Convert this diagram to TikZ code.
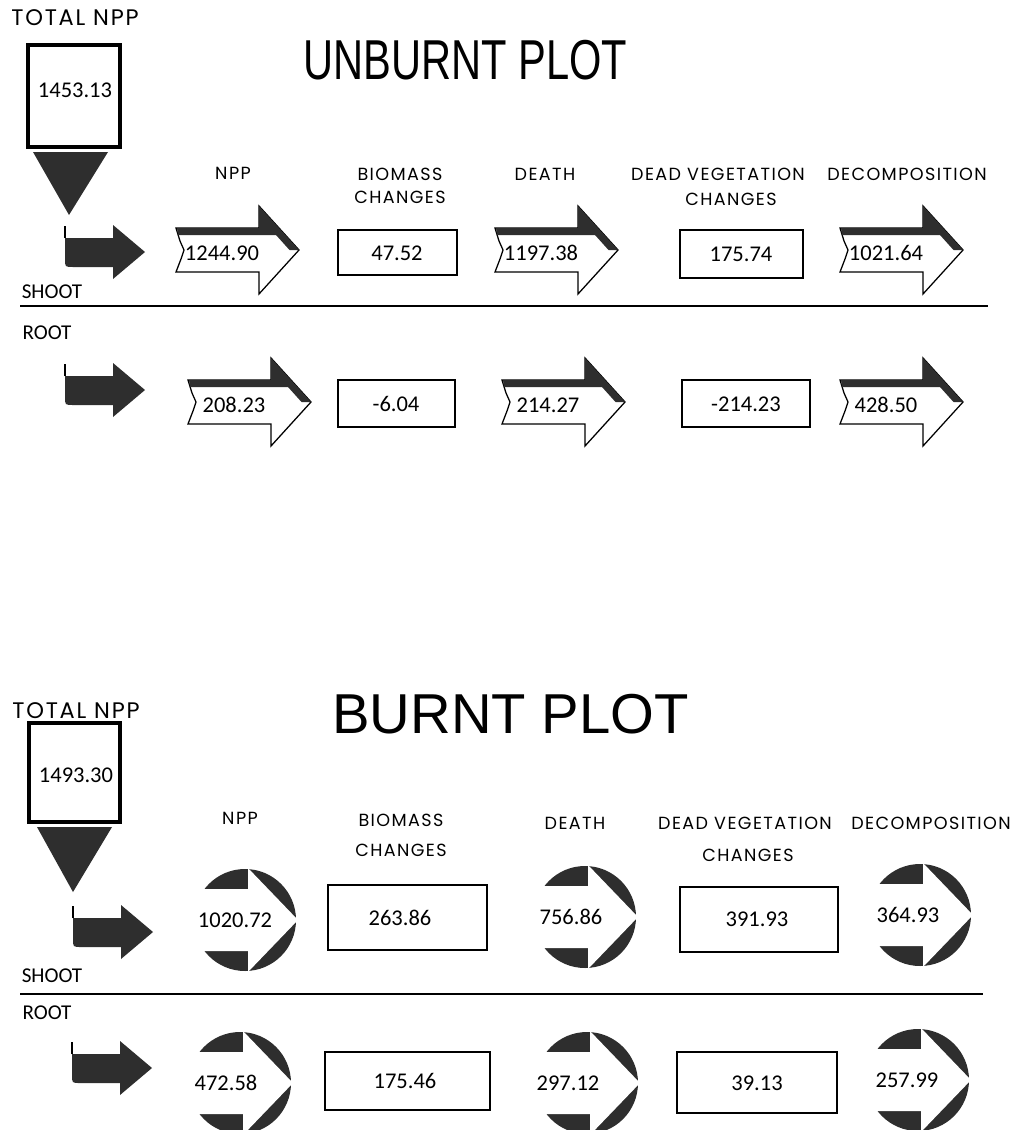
\documentclass[tikz,border=0pt]{standalone}
\usepackage{fontspec}
\setmainfont{Carlito}
\newfontfamily\labelfont[LetterSpace=8]{Poppins}
\newfontfamily\titlefont{Liberation Sans}

\tikzset{
  darkfill/.style={fill=black!82},
  arrowline/.style={draw=black, line width=0.9pt, fill=white},
  valbox/.style={draw=black, line width=0.9pt},
  totalbox/.style={draw=black, line width=2.2pt},
  divider/.style={draw=black, line width=1.3pt},
  numtext/.style={font=\fontsize{16}{16}\selectfont, inner sep=0pt},
  headtext/.style={font=\labelfont\fontsize{12.5}{13}\selectfont, inner sep=0pt},
  totaltext/.style={font=\labelfont\fontsize{16}{17}\selectfont, inner sep=0pt},
  parttext/.style={font=\fontsize{15}{15}\selectfont, inner sep=0pt},
  titletext/.style={font=\titlefont\fontsize{40}{40}\selectfont, inner sep=0pt, anchor=base west},
}

% outlined flow arrow: name, left x, centre y, value
\newcommand{\flowarrow}[4]{%
  \draw[arrowline] ({#2},{#3-22}) -- ({#2+83},{#3-22}) -- ({#2+83},{#3-44})
    -- ({#2+123},{#3}) -- ({#2+83},{#3+44}) -- ({#2+83},{#3+22})
    -- ({#2},{#3+22}) -- ({#2+5},{#3+9}) -- ({#2+8},{#3}) -- ({#2+4},{#3-9}) -- cycle;
  \fill[darkfill] ({#2+1},{#3-22}) -- ({#2+83},{#3-22}) -- ({#2+83},{#3-44})
    -- ({#2+123},{#3}) -- ({#2+113.5},{#3}) -- ({#2+100},{#3-15}) -- ({#2+2},{#3-15}) -- cycle;
  \node[numtext] (#1) at ({#2+46},{#3+3}) {#4};
}
% round flow arrow: name, centre x, centre y, value, text shift
\newcommand{\ringarrow}[5]{%
  \fill[darkfill] ({#2},{#3}) circle[radius=51];
  \fill[white] ({#2-55},{#3-31}) -- ({#2+3},{#3-31}) -- ({#2+3},{#3-52})
    -- ({#2+53},{#3}) -- ({#2+3},{#3+52}) -- ({#2+3},{#3+31}) -- ({#2-55},{#3+31}) -- cycle;
  \node[numtext] (#1) at ({#2+#5},{#3}) {#4};
}
% small bent input arrow: name, left x, centre y
\newcommand{\inarrow}[3]{%
  \fill[darkfill] ({#2+48},{#3+15}) -- ({#2+8},{#3+15}) .. controls ({#2},{#3+15}) .. ({#2},{#3+7})
    -- ({#2},{#3-14}) -- ({#2+48},{#3-14}) -- ({#2+48},{#3-27}) -- ({#2+80},{#3})
    -- ({#2+48},{#3+27}) -- cycle;
  \draw[line width=0.8pt] ({#2},{#3-14}) -- ({#2},{#3-26});
  \coordinate (#1) at ({#2+80},{#3});
}

\begin{document}
\begin{tikzpicture}[x=0.025cm, y=-0.025cm]
\useasboundingbox (0,0) rectangle (1016,1130);
\fill[white] (0,0) rectangle (1016,1130);

% ---- unburnt plot
\node[totaltext] (totalU) at (75,18) {TOTAL NPP};
\draw[totalbox] (28,45) rectangle (120,147);
\node[numtext] (totalvalU) at (75,90) {1453.13};
\fill[darkfill] (33,152) -- (108,152) -- (69,215) -- cycle;
\node[titletext] (titleU) at (303,80) {\scalebox{0.74}[1]{UNBURNT PLOT}};

\node[headtext] (nppU) at (233,173) {NPP};
\node[headtext] (bioU) at (400,174) {BIOMASS};
\node[headtext] (biochU) at (400,197) {CHANGES};
\node[headtext] (deathU) at (545,174) {DEATH};
\node[headtext] (deadU) at (718,174) {DEAD VEGETATION};
\node[headtext] (deadchU) at (731,199) {CHANGES};
\node[headtext] (decompU) at (907,174) {DECOMPOSITION};

\inarrow{inshootU}{65}{252}
\flowarrow{nppshootU}{176}{250}{1244.90}
\draw[valbox] (338,230) rectangle (457,275);
\node[numtext] (bioshootU) at (397,253) {47.52};
\flowarrow{deathshootU}{495}{250}{1197.38}
\draw[valbox] (680,230) rectangle (803,278);
\node[numtext] (deadshootU) at (741,254) {175.74};
\flowarrow{decompshootU}{840}{250}{1021.64}

\node[parttext] (shootU) at (52,292) {SHOOT};
\draw[divider] (20,306) -- (988,306);
\node[parttext] (rootU) at (47,333) {ROOT};

\inarrow{inrootU}{65}{390}
\flowarrow{npprootU}{188}{402}{208.23}
\draw[valbox] (338,380) rectangle (455,427);
\node[numtext] (biorootU) at (396,404) {-6.04};
\flowarrow{deathrootU}{502}{402}{214.27}
\draw[valbox] (682,380) rectangle (810,427);
\node[numtext] (deadrootU) at (746,404) {-214.23};
\flowarrow{decomprootU}{840}{402}{428.50}

% ---- burnt plot
\node[totaltext] (totalB) at (76,711) {TOTAL NPP};
\draw[totalbox] (29,723) rectangle (120,822);
\node[numtext] (totalvalB) at (76,775) {1493.30};
\fill[darkfill] (37,827) -- (112,827) -- (73,892) -- cycle;
\node[titletext] (titleB) at (332,733) {BURNT PLOT};

\node[headtext] (nppB) at (240,818) {NPP};
\node[headtext] (bioB) at (401,820) {BIOMASS};
\node[headtext] (biochB) at (401,850) {CHANGES};
\node[headtext] (deathB) at (575,823) {DEATH};
\node[headtext] (deadB) at (745,823) {DEAD VEGETATION};
\node[headtext] (deadchB) at (748,855) {CHANGES};
\node[headtext] (decompB) at (931,823) {DECOMPOSITION};

\inarrow{inshootB}{73}{932}
\ringarrow{nppshootB}{245}{920}{1020.72}{-10}
\draw[valbox] (328,885) rectangle (487,950);
\node[numtext] (bioshootB) at (400,918) {263.86};
\ringarrow{deathshootB}{585}{917}{756.86}{-14}
\draw[valbox] (680,887) rectangle (838,952);
\node[numtext] (deadshootB) at (757,919) {391.93};
\ringarrow{decompshootB}{920}{915}{364.93}{-12}

\node[parttext] (shootB) at (52,976) {SHOOT};
\draw[divider] (20,994) -- (983,994);
\node[parttext] (rootB) at (47,1013) {ROOT};

\inarrow{inrootB}{72}{1068}
\ringarrow{npprootB}{240}{1083}{472.58}{-14}
\draw[valbox] (325,1052) rectangle (490,1110);
\node[numtext] (biorootB) at (405,1081) {175.46};
\ringarrow{deathrootB}{587}{1083}{297.12}{-19}
\draw[valbox] (677,1052) rectangle (837,1113);
\node[numtext] (deadrootB) at (757,1083) {39.13};
\ringarrow{decomprootB}{918}{1080}{257.99}{-11}
\end{tikzpicture}
\end{document}
